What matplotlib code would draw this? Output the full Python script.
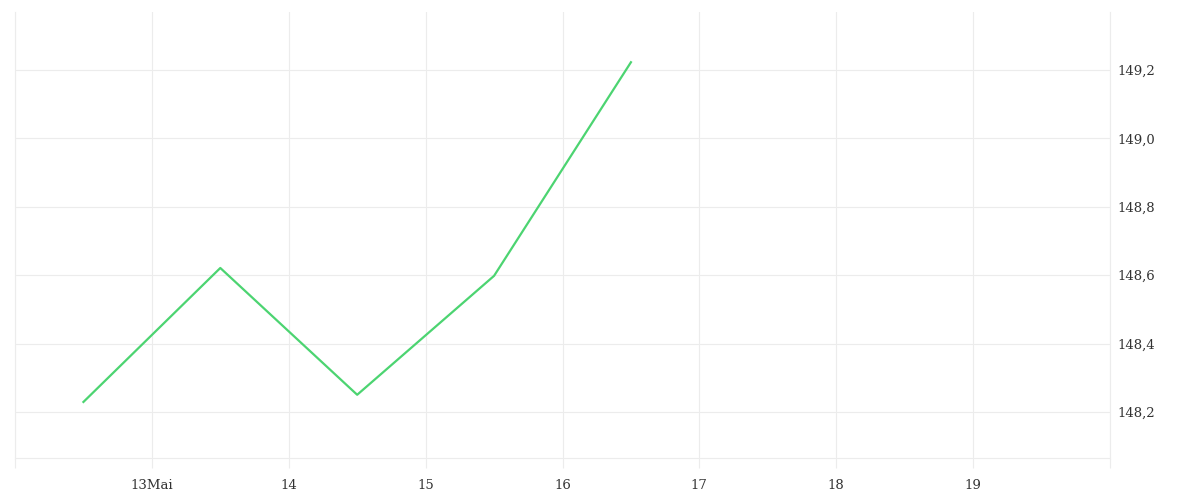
import pandas as pd
import matplotlib
matplotlib.use('Agg')
import matplotlib.pyplot as plt

# Data (daily values, plotted at midday)
dates = ["2024-05-12 12:00", "2024-05-13 12:00", "2024-05-14 12:00",
         "2024-05-15 12:00", "2024-05-16 12:00"]
values = [148.229, 148.621, 148.250, 148.598, 149.223]

x_ticks = ["2024-05-12", "2024-05-13", "2024-05-14", "2024-05-15",
           "2024-05-16", "2024-05-17", "2024-05-18", "2024-05-19", "2024-05-20"]
x_labels = ["", "13Mai", "14", "15", "16", "17", "18", "19", ""]
y_ticks = [148.2, 148.4, 148.6, 148.8, 149.0, 149.2]

grid_col = "#ececec"

plt.rcParams['font.family'] = ['DejaVu Serif']

fig = plt.figure(figsize=(12, 5), dpi=100)
ax = fig.add_axes([0.0125, 0.084, 0.9125, 0.892])

x = pd.to_datetime(dates)
ax.plot(x, values, color="#4cd471", linewidth=1.6)

ax.set_xlim(pd.Timestamp(x_ticks[0]), pd.Timestamp(x_ticks[-1]))
ax.set_ylim(148.065, 149.37)

ax.set_xticks(pd.to_datetime(x_ticks))
ax.set_xticklabels(x_labels)
ax.set_yticks(y_ticks)
ax.set_yticklabels([f"{v:.1f}".replace(".", ",") for v in y_ticks])

ax.yaxis.tick_right()
ax.grid(True, color=grid_col, linewidth=0.8)

ax.spines["top"].set_visible(False)
ax.spines["left"].set_color(grid_col)
ax.spines["right"].set_color(grid_col)
ax.spines["bottom"].set_color(grid_col)

ax.tick_params(axis="x", length=7, color=grid_col, labelsize=9.5,
               labelcolor="#333333", pad=8)
ax.tick_params(axis="y", length=0, labelsize=9.5, labelcolor="#333333", pad=5)

fig.savefig("out.png", dpi=100)
